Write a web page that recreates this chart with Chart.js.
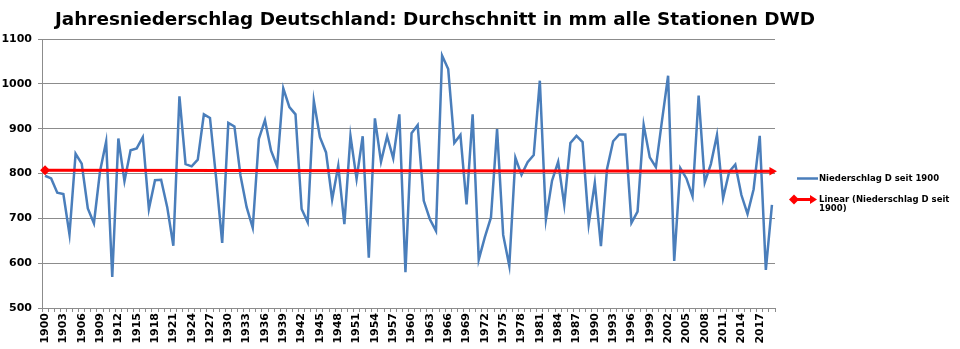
<!DOCTYPE html>
<html>
<head>
<meta charset="utf-8">
<script src="https://cdn.jsdelivr.net/npm/chart.js@4"></script>
<style>
  body { margin: 0; background: #fff; }
  #wrap { position: relative; width: 960px; height: 349px; overflow: hidden; }
  #title { position: absolute; left: 55px; top: 8px; font: bold 18.4px "DejaVu Sans", Verdana, sans-serif; color: #000; white-space: nowrap; }
  .leg { position: absolute; font: bold 8.5px "DejaVu Sans", Verdana, sans-serif; color: #000; line-height: 9px; }
</style>
</head>
<body>
<div id="wrap">
  <canvas id="chart" width="960" height="349"></canvas>
  <div id="title">Jahresniederschlag Deutschland: Durchschnitt in mm alle Stationen DWD</div>
  <svg style="position:absolute;left:788px;top:172px" width="32" height="34">
    <line x1="9" y1="6.5" x2="30" y2="6.5" stroke="#4a7ebb" stroke-width="2.5"/>
    <line x1="6" y1="27.5" x2="24" y2="27.5" stroke="#ff0000" stroke-width="3"/>
    <polygon points="1,27.5 6,22.5 11,27.5 6,32.5" fill="#ff0000"/>
    <polygon points="22,23 29,27.5 22,32" fill="#ff0000"/>
  </svg>
  <div class="leg" style="left:819px;top:174px">Niederschlag D seit 1900</div>
  <div class="leg" style="left:819px;top:195px">Linear (Niederschlag D seit<br>1900)</div>
</div>
<script>
// Jahre 1900 bis 2019
const years = [];
for (let y = 1900; y <= 2019; y++) years.push(String(y));

// Jahresniederschlag in mm
const rain1900s = [795, 789, 757, 754, 664, 844, 822, 722, 689, 805];
const rain1910s = [871, 569, 878, 783, 852, 856, 881, 721, 785, 786];
const rain1920s = [725, 639, 972, 821, 816, 831, 932, 924, 790, 645];
const rain1930s = [913, 905, 795, 725, 679, 877, 919, 851, 816, 990];
const rain1940s = [948, 932, 721, 691, 962, 881, 847, 742, 817, 687];
const rain1950s = [884, 788, 883, 612, 923, 826, 883, 834, 932, 580];
const rain1960s = [890, 908, 739, 698, 672, 1063, 1033, 868, 886, 731];
const rain1970s = [932, 608, 658, 702, 899, 663, 594, 835, 797, 825];
const rain1980s = [841, 1007, 698, 784, 826, 730, 868, 884, 870, 687];
const rain1990s = [779, 638, 810, 872, 887, 887, 690, 715, 908, 836];
const rain2000s = [814, 918, 1018, 605, 812, 789, 749, 974, 780, 821];
const rain2010s = [886, 745, 804, 820, 752, 710, 765, 884, 585, 730];
const rain = [].concat(rain1900s, rain1910s, rain1920s, rain1930s, rain1940s, rain1950s,
                       rain1960s, rain1970s, rain1980s, rain1990s, rain2000s, rain2010s);

// linearer Trend: Anfangs- und Endwert
const trendYears = ['1900', '2019'];
const trendValues = [807, 805];

const yTicks = [500, 600, 700, 800, 900, 1000, 1100];

const ctx = document.getElementById('chart').getContext('2d');
new Chart(ctx, {
  type: 'line',
  data: {
    labels: years,
    datasets: [
      {
        label: 'Niederschlag D seit 1900',
        data: rain,
        borderColor: '#4a7ebb',
        borderWidth: 2.5,
        pointRadius: 0,
        tension: 0,
        order: 2
      },
      {
        label: 'Linear (Niederschlag D seit 1900)',
        data: trendYears.map((y, i) => ({ x: y, y: trendValues[i] })),
        borderColor: '#ff0000',
        backgroundColor: '#ff0000',
        borderWidth: 3,
        pointStyle: ['rectRot', 'triangle'],
        pointRotation: [0, 90],
        pointRadius: [5, 5],
        pointBorderWidth: 0,
        order: 1
      }
    ]
  },
  options: {
    responsive: false,
    animation: false,
    layout: { padding: { left: 0, right: 185, top: 39, bottom: 0 } },
    plugins: {
      legend: { display: false },
      tooltip: { enabled: false }
    },
    scales: {
      x: {
        type: 'category',
        offset: true,
        grid: { display: true, drawOnChartArea: false, drawTicks: true, tickLength: 4, offset: true, color: '#8c8c8c' },
        border: { color: '#8c8c8c' },
        ticks: {
          autoSkip: false,
          maxRotation: 90,
          minRotation: 90,
          padding: 1,
          color: '#000',
          font: { family: 'DejaVu Sans', size: 11, weight: 'bold' },
          callback: function (val, idx) { return idx % 3 === 0 ? this.getLabelForValue(val) : ''; }
        },
        afterFit: (s) => { s.height = 41; }
      },
      y: {
        min: 500,
        max: 1100,
        afterBuildTicks: (s) => { s.ticks = yTicks.map(v => ({ value: v })); },
        grid: { color: '#8c8c8c', tickLength: 4 },
        border: { color: '#8c8c8c' },
        ticks: {
          padding: 6,
          color: '#000',
          font: { family: 'DejaVu Sans', size: 11, weight: 'bold' },
          callback: (v) => String(v)
        },
        afterFit: (s) => { s.width = 42; }
      }
    }
  }
});
</script>
</body>
</html>
